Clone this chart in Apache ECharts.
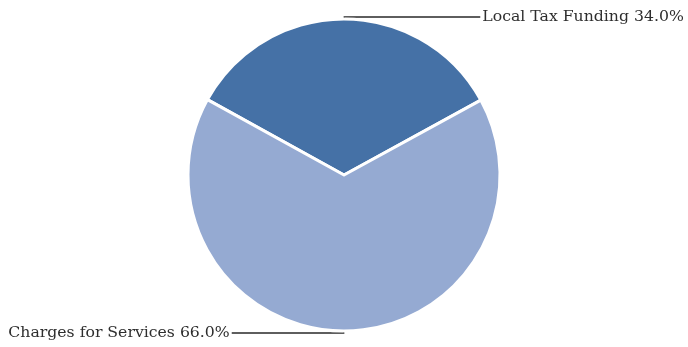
<!DOCTYPE html>
<html>
<head>
<meta charset="utf-8">
<script src="https://cdn.jsdelivr.net/npm/echarts@6/dist/echarts.min.js"></script>
<style>
  html, body { margin: 0; padding: 0; background: #fff; }
  #chart { width: 688px; height: 347px; }
</style>
</head>
<body>
<div id="chart"></div>
<script>
// Funding sources (percent of total)
const categories = ['Local Tax Funding', 'Charges for Services'];
const shares = [34.0, 66.0];
const sliceColors = ['#4571a6', '#95aad2'];
// horizontal leader length for each label
const leaderLengths = [136, 112];

const chart = echarts.init(document.getElementById('chart'), null, { renderer: 'canvas' });

chart.setOption({
  animation: false,
  series: [{
    type: 'pie',
    center: [344, 175],
    radius: [0, 156],
    // keep the smaller slice centred on the top of the pie
    startAngle: 90 + shares[0] * 1.8 - 0.1,
    clockwise: true,
    avoidLabelOverlap: false,
    data: categories.map((name, i) => ({
      name: name,
      value: shares[i],
      itemStyle: { color: sliceColors[i] },
      labelLine: { length2: leaderLengths[i] }
    })),
    itemStyle: { borderColor: '#ffffff', borderWidth: 3 },
    label: {
      show: true,
      formatter: p => p.name + ' ' + p.value.toFixed(1) + '%',
      fontFamily: 'DejaVu Serif',
      fontSize: 15.7,
      color: '#2e2e2e',
      distanceToLabelLine: 2
    },
    labelLine: {
      show: true,
      length: 2,
      lineStyle: { color: '#2a2a2a', width: 1.3 }
    },
    emphasis: { disabled: true }
  }]
});
</script>
</body>
</html>
